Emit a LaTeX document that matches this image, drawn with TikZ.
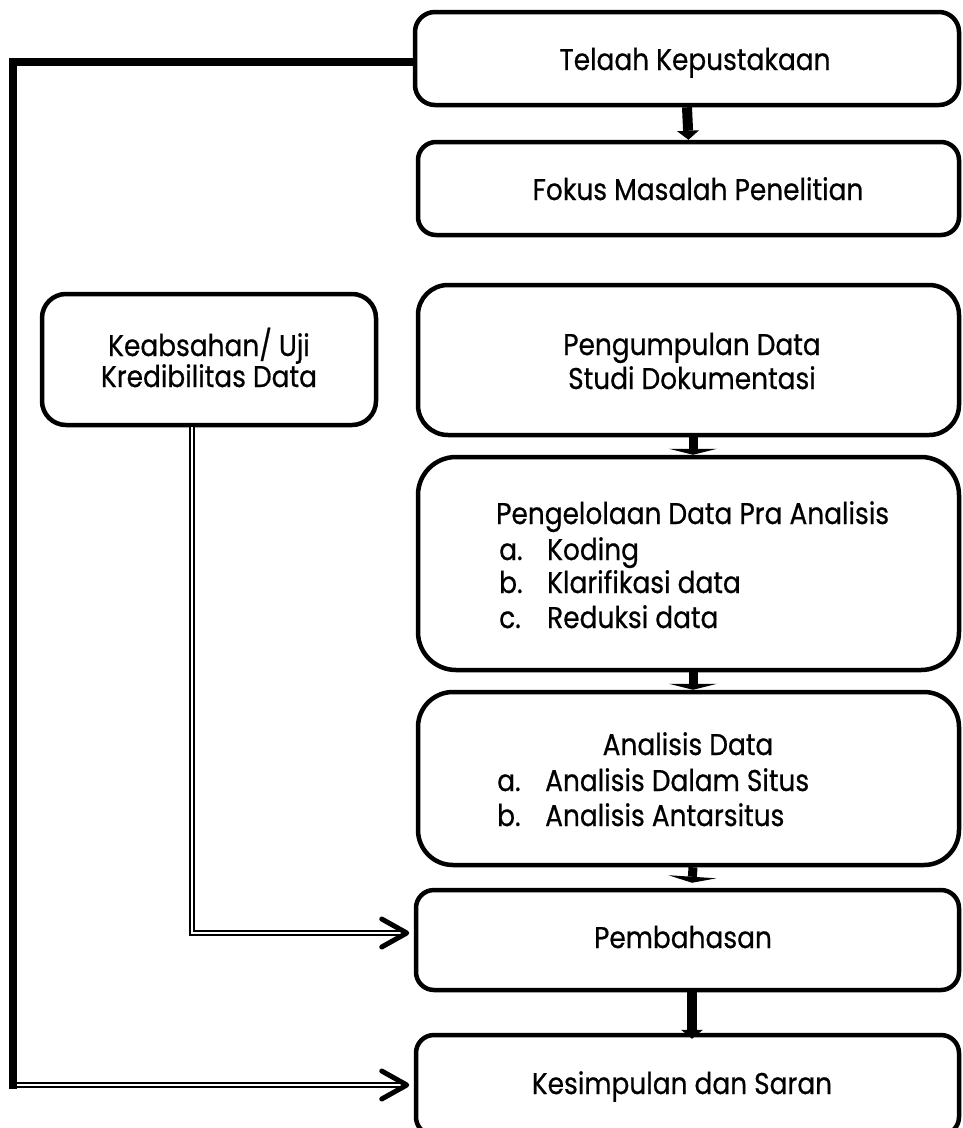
\documentclass[tikz,border=0pt]{standalone}
\usepackage{fontspec}
\setmainfont[FakeStretch=0.88,FakeBold=0.6]{Poppins}
\usetikzlibrary{arrows.meta,calc}
\begin{document}
\begin{tikzpicture}[x=1pt,y=-1pt,
  box/.style={draw, line width=4.5pt, inner sep=0pt},
  txt/.style={inner sep=0pt, font=\fontsize{30}{34}\selectfont},
  flowarrow/.style={line width=10pt, -{Triangle[width=22pt,length=9pt,line width=0pt]}},
  flatarrow/.style={line width=9pt, -{Triangle[width=48pt,length=6pt,line width=0pt]}},
  thickline/.style={line width=8pt, line join=miter},
  dbl/.style={draw, line width=2.6pt, double=white, double distance=1.4pt},
  chevron/.style={line width=5pt, line cap=round, line join=round}
]
\useasboundingbox (0,0) rectangle (963,1128);
\clip (0,0) rectangle (963,1128);

% boxes
\node[box, minimum width=544, minimum height=93, rounded corners=20pt] (tel) at (687,58.5) {};
\node[box, minimum width=541, minimum height=93, rounded corners=18pt] (fok) at (688.5,188.5) {};
\node[box, minimum width=541, minimum height=150, rounded corners=30pt] (peng) at (688.5,360) {};
\node[box, minimum width=541, minimum height=213, rounded corners=38pt] (olah) at (688.5,563.5) {};
\node[box, minimum width=541, minimum height=173, rounded corners=35pt] (anal) at (688.5,778.5) {};
\node[box, minimum width=543, minimum height=100, rounded corners=18pt] (bah) at (687.5,940) {};
\node[box, minimum width=543, minimum height=100, rounded corners=18pt] (kes) at (687.5,1085) {};
\node[box, minimum width=334, minimum height=131, rounded corners=24pt] (keab) at (209,359.5) {};

% texts
\node[txt, anchor=base] (t1) at (695,70) {Telaah Kepustakaan};
\node[txt, anchor=base] (t2) at (698,200) {Fokus Masalah Penelitian};
\node[txt, anchor=base] (t3a) at (692,355) {Pengumpulan Data};
\node[txt, anchor=base] (t3b) at (692,389) {Studi Dokumentasi};
\node[txt, anchor=base west] (t4) at (496,524) {Pengelolaan Data Pra Analisis};
\node[txt, anchor=base west] (t4a) at (499,560) {\makebox[48pt][l]{a.}Koding};
\node[txt, anchor=base west] (t4b) at (499,593) {\makebox[48pt][l]{b.}Klarifikasi data};
\node[txt, anchor=base west] (t4c) at (499,628) {\makebox[48pt][l]{c.}Reduksi data};
\node[txt, anchor=base] (t5) at (688,755) {Analisis Data};
\node[txt, anchor=base west] (t5a) at (497,791) {\makebox[48pt][l]{a.}Analisis Dalam Situs};
\node[txt, anchor=base west] (t5b) at (497,826) {\makebox[48pt][l]{b.}Analisis Antarsitus};
\node[txt, anchor=base] (t6) at (683,948) {Pembahasan};
\node[txt, anchor=base] (t7) at (682,1094) {Kesimpulan dan Saran};
\node[txt, anchor=base] (t8a) at (209,356) {Keabsahan/ Uji};
\node[txt, anchor=base] (t8b) at (209,387) {Kredibilitas Data};

% main flow arrows
\draw[flowarrow] (tel.south) -- (fok.north);
\draw[flatarrow] ([xshift=4.5pt]peng.south) -- ([xshift=4.5pt]olah.north);
\draw[flatarrow] ([xshift=4.5pt]olah.south) -- ([xshift=4.5pt]anal.north);
\draw[flatarrow] ([xshift=4.5pt]anal.south) -- ([xshift=4.5pt,yshift=5pt]bah.north);
\draw[flowarrow] ([xshift=4.5pt]bah.south) -- ([xshift=4.5pt,yshift=-6pt]kes.north);

% left thick feedback line
\coordinate (tl) at (12.5,62);
\coordinate (bl) at (12.5,1089);
\draw[thickline] (tel.west |- tl) -- (tl) -- (bl);

% double line to Kesimpulan
\coordinate (bd) at (16.5,1085);
\coordinate (kt) at ([xshift=-7pt]kes.west |- bd);
\draw[dbl] (bd) -- ([xshift=-3pt]kt);
\draw[chevron] ($(kt)+(-25,-14)$) -- (kt) -- ($(kt)+(-25,14)$);

% double line from Keabsahan to Pembahasan
\coordinate (kb) at (192,933);
\coordinate (bt) at ([xshift=-7pt]bah.west |- kb);
\draw[dbl] (kb |- keab.south) -- (kb) -- ([xshift=-3pt]bt);
\draw[chevron] ($(bt)+(-25,-14)$) -- (bt) -- ($(bt)+(-25,14)$);
\end{tikzpicture}
\end{document}
